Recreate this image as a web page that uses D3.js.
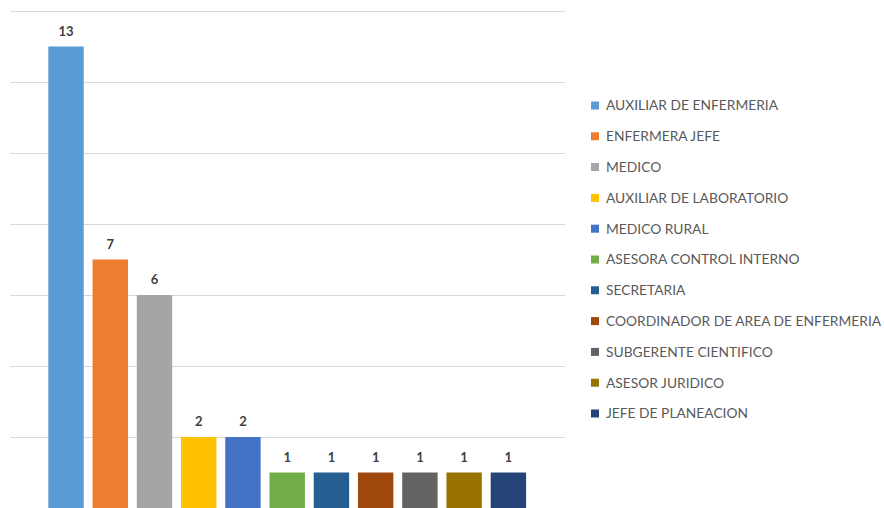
<!DOCTYPE html>
<html>
<head>
<meta charset="utf-8">
<script src="https://cdn.jsdelivr.net/npm/d3@7"></script>
<style>
  body { margin: 0; background: #fff; }
  text { font-family: Lato, "Open Sans", sans-serif; }
</style>
</head>
<body>
<script>
// categories and counts
var cargos = [
  "AUXILIAR DE ENFERMERIA", "ENFERMERA JEFE", "MEDICO", "AUXILIAR DE LABORATORIO",
  "MEDICO RURAL", "ASESORA CONTROL INTERNO", "SECRETARIA",
  "COORDINADOR DE AREA DE ENFERMERIA", "SUBGERENTE CIENTIFICO", "ASESOR JURIDICO",
  "JEFE DE PLANEACION"
];
var cantidad = [13, 7, 6, 2, 2, 1, 1, 1, 1, 1, 1];
var colores = ["#5B9BD5", "#ED7D31", "#A5A5A5", "#FFC000", "#4472C4", "#70AD47",
  "#255E91", "#9E480E", "#636363", "#997300", "#264478"];
var yTicks = [0, 2, 4, 6, 8, 10, 12, 14];

var width = 884, height = 508;

var svg = d3.select("body").append("svg")
  .attr("width", width)
  .attr("height", height);

var x = d3.scaleBand()
  .domain(cargos)
  .range([43.9, 530.5])
  .paddingInner(0.2)
  .paddingOuter(0.1);

var y = d3.scaleLinear()
  .domain([0, 14])
  .range([508, 11]);

// gridlines
svg.append("g").selectAll("line")
  .data(yTicks)
  .enter().append("line")
  .attr("x1", 10)
  .attr("x2", 565)
  .attr("y1", function(d) { return Math.round(y(d)) + 0.5; })
  .attr("y2", function(d) { return Math.round(y(d)) + 0.5; })
  .attr("stroke", "#D9D9D9")
  .attr("stroke-width", 1.2);

// bars
svg.append("g").selectAll("rect")
  .data(cantidad)
  .enter().append("rect")
  .attr("x", function(d, i) { return x(cargos[i]); })
  .attr("width", x.bandwidth())
  .attr("y", function(d) { return y(d); })
  .attr("height", function(d) { return y(0) - y(d); })
  .attr("fill", function(d, i) { return colores[i]; });

// value labels
svg.append("g").selectAll("text")
  .data(cantidad)
  .enter().append("text")
  .attr("x", function(d, i) { return x(cargos[i]) + x.bandwidth() / 2; })
  .attr("y", function(d) { return y(d) - 11; })
  .attr("text-anchor", "middle")
  .attr("font-size", 13)
  .attr("font-weight", "bold")
  .attr("fill", "#404040")
  .text(function(d) { return d; });

// legend
var legend = svg.append("g").selectAll("g")
  .data(cargos)
  .enter().append("g")
  .attr("transform", function(d, i) { return "translate(591," + (105.5 + i * 30.8) + ")"; });

legend.append("rect")
  .attr("x", 0)
  .attr("y", -4)
  .attr("width", 8)
  .attr("height", 8)
  .attr("fill", function(d, i) { return colores[i]; });

legend.append("text")
  .attr("x", 15)
  .attr("y", 0)
  .attr("dy", "0.35em")
  .attr("font-size", 13.8)
  .attr("fill", "#595959")
  .text(function(d) { return d; });
</script>
</body>
</html>
